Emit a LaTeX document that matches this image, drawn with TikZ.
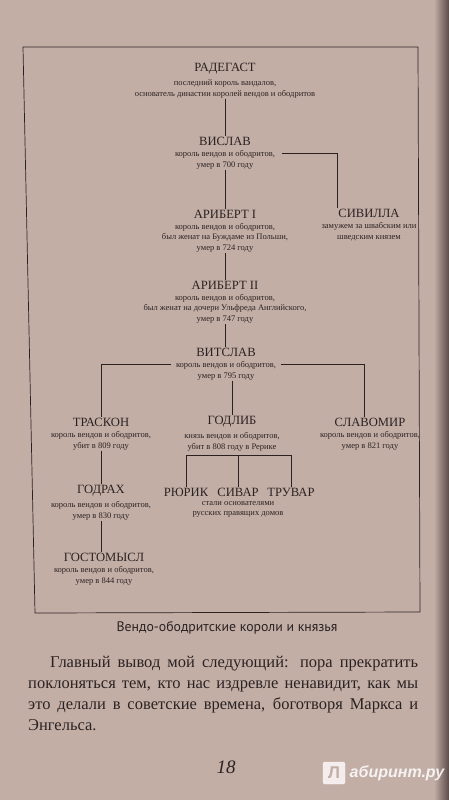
\documentclass[tikz,border=0pt]{standalone}
\usepackage{fontspec}
\setmainfont{Liberation Serif}
\newfontfamily\capfont{PT Sans}
\newfontfamily\markfont{Liberation Sans}
\usetikzlibrary{positioning, calc}
\definecolor{paper}{HTML}{C3AEA6}
\definecolor{edge}{HTML}{5A4A48}
\definecolor{ink}{HTML}{2A2222}

\begin{document}
\begin{tikzpicture}[
    x=1pt, y=-1pt,
    every node/.style={text=ink},
    who/.style={font=\fontsize{12.6}{14}\selectfont, inner sep=1pt},
    about/.style={font=\fontsize{8.5}{10.8}\selectfont, align=center, inner sep=0.5pt},
    link/.style={ink, line width=0.7pt},
    body/.style={font=\fontsize{16.5}{20}\selectfont, anchor=base west, inner sep=0pt},
]

% ---------------------------------------------------------------- page
\fill[paper] (0,0) rectangle (449,800);
\shade[left color=paper, right color=edge] (434,0) rectangle (449,800);
\useasboundingbox (0,0) rectangle (449,800);
\draw[ink, line width=0.7pt] (23,47) -- (418,47) -- (420,612) -- (35,613) -- cycle;

% ---------------------------------------------------------------- main line
\node[who] (radegast) at (225,69) {РАДЕГАСТ};
\node[about, below=3pt of radegast] (radegast-i)
    {последний король вандалов,\\основатель династии королей вендов и ободритов};

\node[who] (vislav) at (225,141) {ВИСЛАВ};
\node[about, below=3pt of vislav] (vislav-i)
    {король вендов и ободритов,\\умер в 700 году};

\node[who] (aribert1) at (225,214) {АРИБЕРТ I};
\node[about, below=3pt of aribert1] (aribert1-i)
    {король вендов и ободритов,\\был женат на Буждаме из Польши,\\умер в 724 году};

\node[who] (sivilla) at (369,213) {СИВИЛЛА};
\node[about, below=3pt of sivilla] (sivilla-i)
    {замужем за швабским или\\шведским князем};

\node[who] (aribert2) at (225,285) {АРИБЕРТ II};
\node[about, below=3pt of aribert2] (aribert2-i)
    {король вендов и ободритов,\\был женат на дочери Ульфреда Английского,\\умер в 747 году};

\node[who] (vitslav) at (226,352) {ВИТСЛАВ};
\node[about, below=3pt of vitslav] (vitslav-i)
    {король вендов и ободритов,\\умер в 795 году};

% ---------------------------------------------------------------- sons
\node[who] (traskon) at (101,422) {ТРАСКОН};
\node[about, below=3pt of traskon] (traskon-i)
    {король вендов и ободритов,\\убит в 809 году};

\node[who] (godlib) at (232,422) {ГОДЛИБ};
\node[about, below=3pt of godlib] (godlib-i)
    {князь вендов и ободритов,\\убит в 808 году в Рерике};

\node[who] (slavomir) at (370,422) {СЛАВОМИР};
\node[about, below=3pt of slavomir] (slavomir-i)
    {король вендов и ободритов,\\умер в 821 году};

\node[who] (godrakh) at (101,491) {ГОДРАХ};
\node[about, below=3pt of godrakh] (godrakh-i)
    {король вендов и ободритов,\\умер в 830 году};

\node[who] (gostomysl) at (104,557) {ГОСТОМЫСЛ};
\node[about, below=3pt of gostomysl] (gostomysl-i)
    {король вендов и ободритов,\\умер в 844 году};

\node[who] (ryurik) at (186,492) {РЮРИК};
\node[who] (sivar) at (238,492) {СИВАР};
\node[who] (truvar) at (291,492) {ТРУВАР};
\node[about, below=3pt of sivar] (rus-i)
    {стали основателями\\русских правящих домов};

% ---------------------------------------------------------------- links
\draw[link] (radegast-i) -- (radegast-i |- vislav.north);
\draw[link] (vislav-i) -- (vislav-i |- aribert1.north);
\draw[link] (aribert1-i) -- (aribert1-i |- aribert2.north);
\draw[link] (aribert2-i) -- (aribert2-i |- vitslav.north);

\coordinate (sis) at ($(vislav-i.north east)+(6,4)$);
\draw[link] (sis) -| (sivilla.north west);

\draw[link] ($(vitslav-i.north west)+(-4,4)$) -| (traskon.north);
\draw[link] ($(vitslav-i.north east)+(4,4)$) -| ([xshift=-6pt]slavomir.north);
\draw[link] (vitslav-i.south -| godlib.north) -- (godlib.north);

\draw[link] (traskon-i) -- (traskon-i |- godrakh.north);
\draw[link] (godrakh-i) -- (godrakh-i |- gostomysl.north);

\coordinate (kin) at ($(godlib-i.south)+(6,4)$);
\draw[link] (ryurik.north) -- (ryurik.north |- kin) -- (truvar.north |- kin) -- (truvar.north);
\draw[link] (sivar.north |- kin) -- (sivar.north);

% ---------------------------------------------------------------- text
\node[font=\capfont\fontsize{13.8}{15}\selectfont] (caption) at (227,628)
    {Вендо-ободритские короли и князья};

\node[body] (line1) at (50,667)
    {\makebox[368pt][s]{Главный вывод мой следующий: пора прекратить}};
\node[body] (line2) at (28,688)
    {\makebox[390pt][s]{поклоняться тем, кто нас издревле ненавидит, как мы}};
\node[body] (line3) at (28,709)
    {\makebox[390pt][s]{это делали в советские времена, боготворя Маркса и}};
\node[body] (line4) at (28,730) {Энгельса.};

\node[font=\itshape\fontsize{19}{20}\selectfont] (folio) at (226,767) {18};

% ---------------------------------------------------------------- mark
\node[draw=white, fill=white, opacity=0.8, rounded corners=2pt,
      minimum size=22pt, inner sep=0pt] (logo) at (334,773) {};
\node[text=paper, font=\markfont\bfseries\fontsize{17}{17}\selectfont] at (logo) {Л};
\node[right=1pt of logo, text=white, opacity=0.85,
      font=\markfont\bfseries\itshape\fontsize{16}{16}\selectfont] (site) {абиринт.ру};

\end{tikzpicture}
\end{document}
